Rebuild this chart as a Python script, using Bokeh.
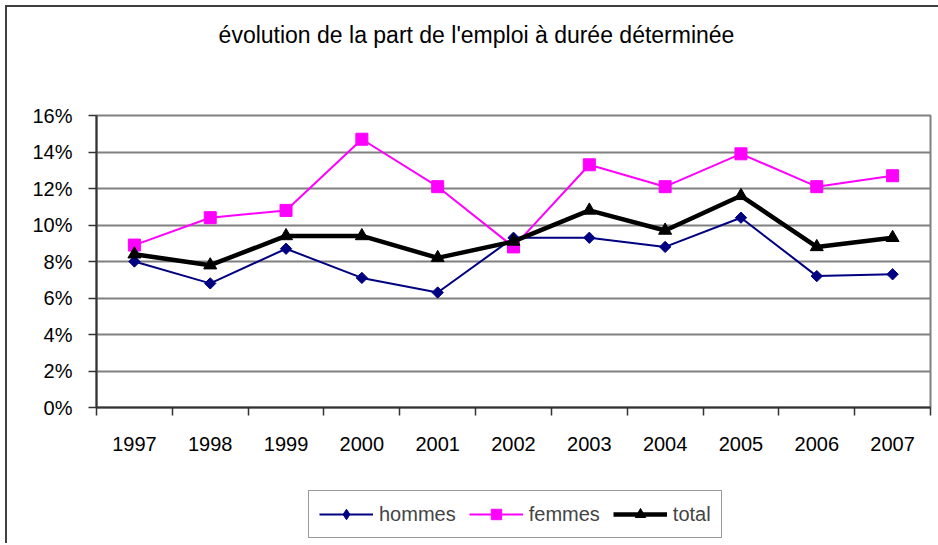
from bokeh.plotting import figure
from bokeh.layouts import column
from bokeh.models import (Range1d, FixedTicker, NumeralTickFormatter, Legend, LegendItem, Label)
from bokeh.embed import file_html
from bokeh.resources import INLINE

# ---- data ----
years = ["1997", "1998", "1999", "2000", "2001", "2002", "2003", "2004", "2005", "2006", "2007"]
hommes = [0.080, 0.068, 0.087, 0.071, 0.063, 0.093, 0.093, 0.088, 0.104, 0.072, 0.073]
femmes = [0.089, 0.104, 0.108, 0.147, 0.121, 0.088, 0.133, 0.121, 0.139, 0.121, 0.127]
total = [0.084, 0.078, 0.094, 0.094, 0.082, 0.091, 0.108, 0.097, 0.116, 0.088, 0.093]
y_ticks = [0.0, 0.02, 0.04, 0.06, 0.08, 0.10, 0.12, 0.14, 0.16]
title_text = "évolution de la part de l'emploi à durée déterminée"
series_names = ["hommes", "femmes", "total"]

FONT = "Liberation Sans"
C_H, C_F, C_T = "#000080", "#FF00FF", "black"

xs = [i + 0.5 for i in range(len(years))]
bounds = [i for i in range(len(years) + 1)]
W = 931


def blank(height, xr=(0, 1), yr=(0, 1)):
    f = figure(width=W, height=height, output_backend="svg", toolbar_location=None,
               x_axis_location=None, y_axis_location=None, min_border=0,
               x_range=Range1d(*xr), y_range=Range1d(*yr))
    f.title = None
    f.grid.visible = False
    f.outline_line_color = None
    f.background_fill_color = "white"
    f.border_fill_color = "white"
    return f


# ---- title strip ----
p0 = blank(88)
p0.add_layout(Label(x=380, y=61, x_units="screen", y_units="screen", text=title_text,
                    text_align="center", text_baseline="alphabetic",
                    text_font=FONT, text_font_size="23px", text_color="black"))

# ---- main chart ----
p = figure(frame_width=834, frame_height=292, output_backend="svg", toolbar_location=None,
           x_range=Range1d(0, len(years)), y_range=Range1d(y_ticks[0], y_ticks[-1]),
           min_border_left=89, min_border_right=8, min_border_top=20, min_border_bottom=60)
p.title = None
p.outline_line_color = "#808080"
p.outline_line_width = 2
p.background_fill_color = "white"
p.border_fill_color = "white"

xa = p.xaxis[0]
xa.ticker = FixedTicker(ticks=xs, minor_ticks=bounds)
xa.major_label_overrides = {x: y for x, y in zip(xs, years)}
xa.major_tick_out = 0
xa.major_tick_in = 0
xa.minor_tick_out = 8
xa.minor_tick_in = 0
xa.minor_tick_line_color = "#333333"
xa.minor_tick_line_width = 1.5
xa.axis_line_color = "#333333"
xa.axis_line_width = 2
xa.major_label_standoff = 21
xa.major_label_text_font = FONT
xa.major_label_text_font_size = "20px"
xa.major_label_text_color = "black"

ya = p.yaxis[0]
ya.ticker = FixedTicker(ticks=y_ticks, minor_ticks=[])
ya.formatter = NumeralTickFormatter(format="0%")
ya.major_tick_out = 8
ya.major_tick_in = 0
ya.major_tick_line_color = "#333333"
ya.major_tick_line_width = 1.5
ya.axis_line_color = "#333333"
ya.axis_line_width = 2
ya.major_label_standoff = 16
ya.major_label_text_font = FONT
ya.major_label_text_font_size = "20px"
ya.major_label_text_color = "black"

p.xgrid.visible = False
p.ygrid[0].ticker = FixedTicker(ticks=y_ticks)
p.ygrid.grid_line_color = "#808080"
p.ygrid.grid_line_width = 2

p.line(xs, hommes, line_color=C_H, line_width=2)
p.scatter(xs, hommes, marker="square", angle=0.785398, size=8, fill_color=C_H, line_color=C_H)
p.line(xs, femmes, line_color=C_F, line_width=2)
p.scatter(xs, femmes, marker="square", size=12, fill_color=C_F, line_color=C_F)
p.line(xs, total, line_color=C_T, line_width=4.5)
p.scatter(xs, total, marker="triangle", size=13, fill_color=C_T, line_color=C_T)

# ---- legend strip (same series, ranges chosen so only the legend shows) ----
p2 = blank(76, xr=(100, 101), yr=(100, 101))
g1 = [p2.line(xs, hommes, line_color=C_H, line_width=2),
      p2.scatter(xs, hommes, marker="diamond", size=11, fill_color=C_H, line_color=C_H)]
g2 = [p2.line(xs, femmes, line_color=C_F, line_width=2),
      p2.scatter(xs, femmes, marker="square", size=12, fill_color=C_F, line_color=C_F)]
g3 = [p2.line(xs, total, line_color=C_T, line_width=4.5),
      p2.scatter(xs, total, marker="triangle", size=13, fill_color=C_T, line_color=C_T)]
legend = Legend(items=[LegendItem(label=series_names[0], renderers=g1),
                       LegendItem(label=series_names[1], renderers=g2),
                       LegendItem(label=series_names[2], renderers=g3)],
                orientation="horizontal", location=(212, 5),
                glyph_width=54, glyph_height=26, label_height=26,
                label_standoff=6, spacing=13, padding=10, margin=0,
                label_text_font=FONT, label_text_font_size="20px",
                border_line_color="#333333", border_line_width=1.5,
                background_fill_color="white")
p2.add_layout(legend, "center")

layout = column(p0, p, p2, spacing=0,
                styles={"margin-left": "5px", "margin-top": "5px",
                        "border-left": "2px solid #404040", "border-top": "2px solid #404040"})

open("out.html", "w").write(file_html(layout, INLINE))
